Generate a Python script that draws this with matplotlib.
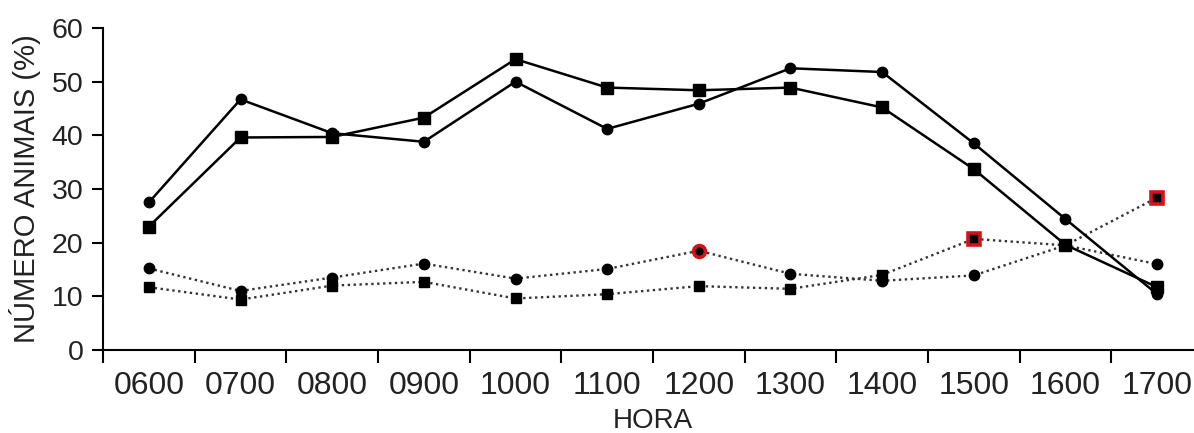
import matplotlib.pyplot as plt
import numpy as np

plt.rcParams['font.family'] = ['Liberation Sans', 'DejaVu Sans']

horas = ['0600', '0700', '0800', '0900', '1000', '1100',
         '1200', '1300', '1400', '1500', '1600', '1700']

# solid lines
circ_solid = [27.5, 46.7, 40.4, 38.8, 50.0, 41.2, 45.9, 52.5, 51.8, 38.5, 24.4, 10.4]
sq_solid = [23.0, 39.6, 39.7, 43.3, 54.2, 48.9, 48.4, 48.9, 45.2, 33.7, 19.6, 11.7]
# dotted lines
circ_dot = [15.2, 11.0, 13.5, 16.1, 13.3, 15.1, 18.5, 14.2, 12.9, 13.9, 19.5, 16.0]
sq_dot = [11.7, 9.4, 12.0, 12.7, 9.6, 10.4, 11.9, 11.4, 14.0, 20.7, 19.5, 28.4]

# highlighted points (index into horas)
circ_dot_red = [6]
sq_dot_red = [9, 11]

x = np.arange(len(horas))

fig = plt.figure(figsize=(11.94, 4.33), dpi=100)
ax = fig.add_axes([0.0863, 0.1917, 1.0075 - 0.0863, 0.9353 - 0.1917])

dot = (0, (1, 1.5))
ax.plot(x, circ_dot, color='#333333', ls=dot, lw=1.7, marker='o', ms=7.5,
        mfc='black', mec='black', zorder=2)
ax.plot(x, sq_dot, color='#333333', ls=dot, lw=1.7, marker='s', ms=7.5,
        mfc='black', mec='black', zorder=2)
ax.plot(x, circ_solid, color='black', lw=1.8, marker='o', ms=7.5, zorder=3)
ax.plot(x, sq_solid, color='black', lw=1.8, marker='s', ms=8, zorder=3)

ax.plot(x[circ_dot_red], np.array(circ_dot)[circ_dot_red], ls='none', marker='o',
        ms=8.5, mfc='black', mec='#d4121c', mew=2.6, zorder=4)
ax.plot(x[sq_dot_red], np.array(sq_dot)[sq_dot_red], ls='none', marker='s',
        ms=9, mfc='black', mec='#d4121c', mew=2.6, zorder=4)

ax.set_xlim(-0.5, len(horas) - 0.5)
ax.set_ylim(0, 60)
ax.set_yticks(np.arange(0, 61, 10))

ax.set_xticks(np.arange(-0.5, len(horas), 1.0))
ax.set_xticklabels([])
ax.set_xticks(x, minor=True)
ax.set_xticklabels(horas, minor=True)
ax.tick_params(axis='x', which='major', direction='out', length=9, width=1.5)
ax.tick_params(axis='x', which='minor', length=0, labelsize=23, pad=15,
               labelcolor='#222222')
ax.tick_params(axis='y', direction='out', length=8, width=1.5, labelsize=20.5,
               pad=6, labelcolor='#222222')

for side in ['top', 'right']:
    ax.spines[side].set_visible(False)
for side in ['left', 'bottom']:
    ax.spines[side].set_linewidth(1.5)

ax.set_ylabel('NÚMERO ANIMAIS (%)', fontsize=21, color='#222222', labelpad=8)
ax.set_xlabel('HORA', fontsize=20, color='#222222', labelpad=5)

fig.savefig('out.png', dpi=100)
